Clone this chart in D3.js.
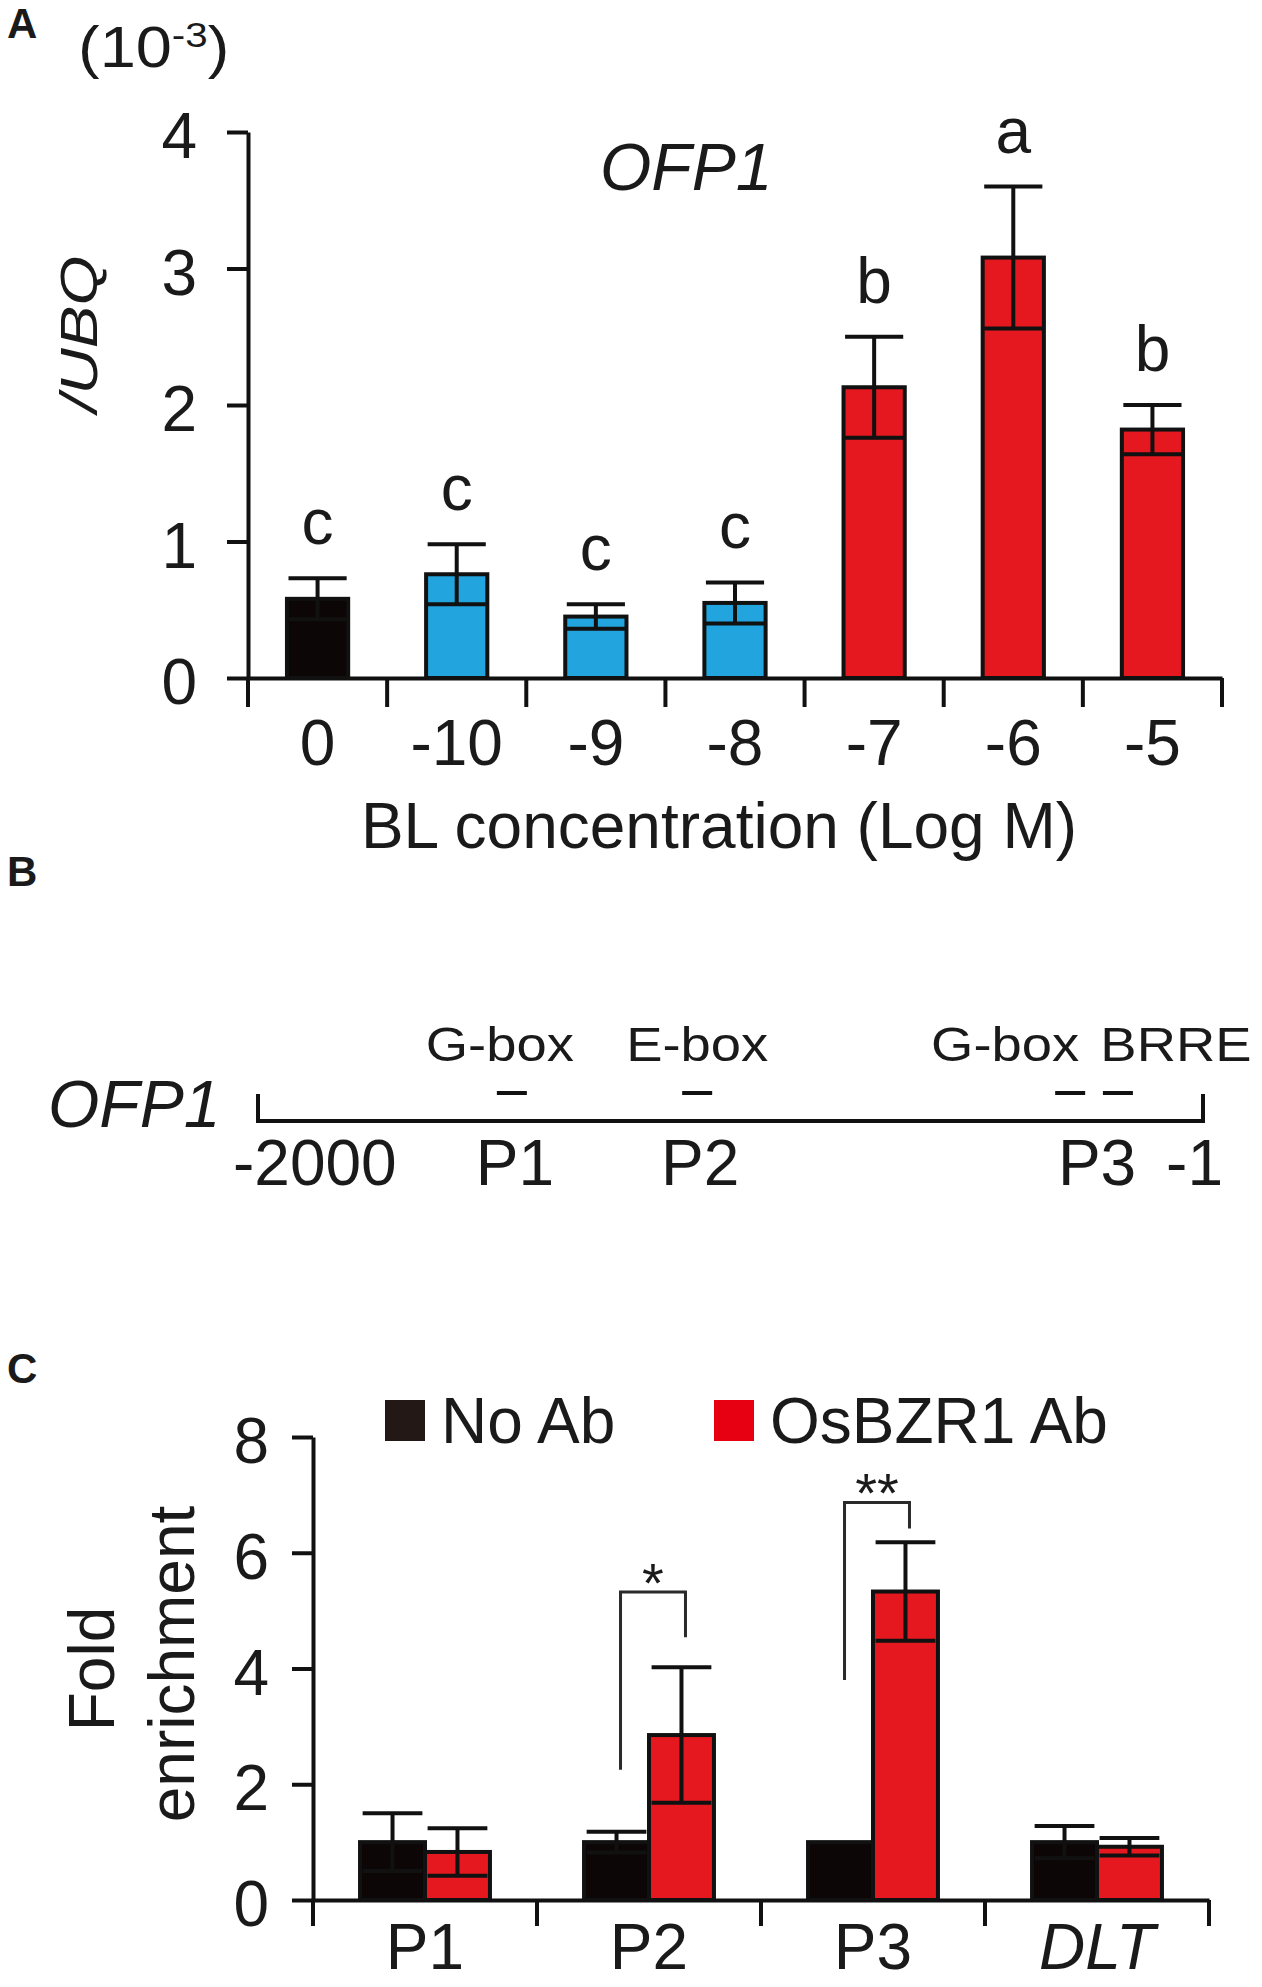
<!DOCTYPE html>
<html>
<head>
<meta charset="utf-8">
<script src="https://cdn.jsdelivr.net/npm/d3@7"></script>
<style>
  body { margin: 0; background: #fff; }
  text { font-family: Arial, "Liberation Sans", sans-serif; fill: #1a1a1a; }
</style>
</head>
<body>
<div id="fig"></div>
<script>
// ---- data: panel A (OFP1 expression vs BL) ----
const blConc = ["0", "-10", "-9", "-8", "-7", "-6", "-5"];
const ofpMean = [0.58, 0.76, 0.45, 0.55, 2.13, 3.08, 1.82];
const ofpSE = [0.15, 0.22, 0.09, 0.15, 0.37, 0.52, 0.18];
const ofpLetters = ["c", "c", "c", "c", "b", "a", "b"];
const ofpGroup = ["control", "low", "low", "low", "high", "high", "high"];
const yTicksA = [0, 1, 2, 3, 4];

// ---- data: panel B (promoter map) ----
const promoterEnds = [-2000, -1];
const motifNames = ["G-box", "E-box", "G-box", "BRRE"];
const motifPos = [-1463, -1071, -282, -181];
const motifRegion = ["P1", "P2", "P3", "P3"];

// ---- data: panel C (ChIP fold enrichment) ----
const chipRegions = ["P1", "P2", "P3", "DLT"];
const noAbMean = [1, 1, 1, 1];
const noAbSE = [0.5, 0.18, 0, 0.28];
const bzrMean = [0.83, 2.85, 5.33, 0.92];
const bzrSE = [0.41, 1.17, 0.85, 0.15];
const sigMarks = ["", "*", "**", ""];
const bracketLeft = [null, 2.25, 3.8, null];
const bracketTop = [null, 5.32, 6.87, null];
const bracketRight = [null, 4.54, 6.42, null];
const yTicksC = [0, 2, 4, 6, 8];
const legendLabels = ["No Ab", "OsBZR1 Ab"];

// colours
const groupColor = { control: "#0d0606", low: "#22a4de", high: "#e4181e" };
const black = "#0d0606", red = "#e4181e";

const svg = d3.select("#fig").append("svg")
  .attr("width", 1262).attr("height", 1987);

// panel letters
[["A", 38], ["B", 886], ["C", 1383]].forEach(([t, y]) => {
  svg.append("text").text(t).attr("x", 7).attr("y", y)
     .style("font-size", "42px").style("font-weight", "bold");
});

function styleAxis(g) {
  g.select(".domain").attr("stroke", "#111").attr("stroke-width", 4);
  g.selectAll(".tick line").attr("stroke", "#111").attr("stroke-width", 4);
  g.selectAll(".tick text").style("font-size", "64px").attr("fill", "#1a1a1a")
   .style("font-family", "Arial, 'Liberation Sans', sans-serif");
}

// ================= Panel A =================
const xA = d3.scaleBand().domain(blConc).range([248, 1222]);
const yA = d3.scaleLinear().domain([0, 4]).range([678, 132]);
const barWA = xA.bandwidth() * 0.44;

const yAxisA = svg.append("g").attr("transform", "translate(248,0)")
  .call(d3.axisLeft(yA).tickValues(yTicksA).tickFormat(d3.format("d"))
        .tickSize(21).tickSizeOuter(0).tickPadding(30));
styleAxis(yAxisA);
yAxisA.selectAll(".tick text").attr("dy", "0.4em");

const xAxisA = svg.append("g").attr("transform", "translate(0,678)")
  .call(d3.axisBottom(xA).tickSize(0).tickSizeOuter(0).tickPadding(42));
styleAxis(xAxisA);
// boundary ticks between categories
svg.append("g").selectAll("line")
  .data(blConc.map(d => xA(d)).concat([xA.range()[1]]))
  .enter().append("line")
  .attr("x1", d => d).attr("x2", d => d)
  .attr("y1", 678).attr("y2", 707)
  .attr("stroke", "#111").attr("stroke-width", 4);

const barsA = svg.append("g");
barsA.selectAll("rect").data(blConc).enter().append("rect")
  .attr("x", d => xA(d) + (xA.bandwidth() - barWA) / 2)
  .attr("y", (d, i) => yA(ofpMean[i]))
  .attr("width", barWA)
  .attr("height", (d, i) => yA(0) - yA(ofpMean[i]))
  .attr("fill", (d, i) => groupColor[ofpGroup[i]])
  .attr("stroke", "#111").attr("stroke-width", 4);

function errorBar(g, cx, mean, se, y, capW) {
  g.append("line").attr("x1", cx).attr("x2", cx)
    .attr("y1", y(mean - se)).attr("y2", y(mean + se))
    .attr("stroke", "#111").attr("stroke-width", 4);
  [mean - se, mean + se].forEach(v => {
    g.append("line").attr("x1", cx - capW / 2).attr("x2", cx + capW / 2)
      .attr("y1", y(v)).attr("y2", y(v))
      .attr("stroke", "#111").attr("stroke-width", 4);
  });
}

blConc.forEach((d, i) => {
  const cx = xA(d) + xA.bandwidth() / 2;
  errorBar(barsA, cx, ofpMean[i], ofpSE[i], yA, barWA * 0.95);
  barsA.append("text").text(ofpLetters[i])
    .attr("x", cx).attr("y", yA(ofpMean[i] + ofpSE[i]) - 34)
    .attr("text-anchor", "middle").style("font-size", "64px");
});

svg.append("text").text("OFP1").attr("x", 600).attr("y", 190)
  .style("font-size", "66px").style("font-style", "italic");

svg.append("text").text("/UBQ")
  .attr("transform", "translate(97,334) rotate(-90) scale(1,0.8)")
  .attr("text-anchor", "middle")
  .style("font-size", "64px").style("font-style", "italic");

const unitLabel = svg.append("g").attr("transform", "translate(78,67) scale(1.12,1)")
  .append("text").style("font-size", "58px");
unitLabel.append("tspan").text("(10");
unitLabel.append("tspan").text("-3").attr("dy", -20).style("font-size", "36px");
unitLabel.append("tspan").text(")").attr("dy", 20);

svg.append("text").text("BL concentration (Log M)")
  .attr("x", 719).attr("y", 848).attr("text-anchor", "middle")
  .style("font-size", "64px");

// ================= Panel B =================
const xB = d3.scaleLinear().domain(promoterEnds).range([258, 1203]);
const lineY = 1121;
svg.append("line").attr("x1", xB(-2000)).attr("x2", xB(-1))
  .attr("y1", lineY).attr("y2", lineY)
  .attr("stroke", "#111").attr("stroke-width", 4);
promoterEnds.forEach(p => {
  svg.append("line").attr("x1", xB(p)).attr("x2", xB(p))
    .attr("y1", lineY - 27).attr("y2", lineY + 2)
    .attr("stroke", "#111").attr("stroke-width", 4);
});
svg.append("text").text("-2000").attr("x", xB(-2000) - 25).attr("y", 1185)
  .style("font-size", "64px");
svg.append("text").text("-1").attr("x", xB(-1) + 20).attr("y", 1185)
  .attr("text-anchor", "end").style("font-size", "64px");
svg.append("text").text("OFP1").attr("x", 48).attr("y", 1127)
  .style("font-size", "66px").style("font-style", "italic");

const motifShift = [-12, 0, -65, 58];
const motifG = svg.append("g");
motifG.selectAll("line").data(motifPos).enter().append("line")
  .attr("x1", d => xB(d) - 15).attr("x2", d => xB(d) + 15)
  .attr("y1", 1093).attr("y2", 1093)
  .attr("stroke", "#111").attr("stroke-width", 4);
motifPos.forEach((p, i) => {
  motifG.append("g")
    .attr("transform", `translate(${xB(p) + motifShift[i]},1061) scale(1.11,1)`)
    .append("text").text(motifNames[i])
    .attr("text-anchor", "middle").style("font-size", "49px");
});
const regions = d3.groups(motifPos.map((p, i) => ({ p, r: motifRegion[i] })), d => d.r);
regions.forEach(([r, arr]) => {
  svg.append("text").text(r)
    .attr("x", d3.mean(arr, d => xB(d.p)) + 3).attr("y", 1185)
    .attr("text-anchor", "middle").style("font-size", "64px");
});

// ================= Panel C =================
const xC = d3.scaleBand().domain(chipRegions).range([313, 1209]);
const yC = d3.scaleLinear().domain([0, 8]).range([1900, 1437]);
const barWC = xC.bandwidth() * 0.29;

const yAxisC = svg.append("g").attr("transform", "translate(313,0)")
  .call(d3.axisLeft(yC).tickValues(yTicksC).tickFormat(d3.format("d"))
        .tickSize(21).tickSizeOuter(0).tickPadding(23));
styleAxis(yAxisC);
yAxisC.selectAll(".tick text").attr("dy", "0.4em");

const xAxisC = svg.append("g").attr("transform", "translate(0,1900)")
  .call(d3.axisBottom(xC).tickSize(0).tickSizeOuter(0).tickPadding(24));
styleAxis(xAxisC);
xAxisC.selectAll(".tick text").style("font-style", d => d === "DLT" ? "italic" : "normal");
svg.append("g").selectAll("line")
  .data(chipRegions.map(d => xC(d)).concat([xC.range()[1]]))
  .enter().append("line")
  .attr("x1", d => d).attr("x2", d => d)
  .attr("y1", 1900).attr("y2", 1926)
  .attr("stroke", "#111").attr("stroke-width", 4);

const barsC = svg.append("g");
chipRegions.forEach((r, i) => {
  const c = xC(r) + xC.bandwidth() / 2;
  const series = [
    { x: c - barWC, m: noAbMean[i], se: noAbSE[i], col: black },
    { x: c, m: bzrMean[i], se: bzrSE[i], col: red }
  ];
  series.forEach(s => {
    barsC.append("rect").attr("x", s.x).attr("y", yC(s.m))
      .attr("width", barWC).attr("height", yC(0) - yC(s.m))
      .attr("fill", s.col).attr("stroke", "#111").attr("stroke-width", 4);
  });
  series.forEach(s => {
    if (s.se > 0) errorBar(barsC, s.x + barWC / 2, s.m, s.se, yC, barWC * 0.92);
  });
  if (sigMarks[i]) {
    const xl = c - barWC / 2 + 4, xr = c + barWC / 2 + 4;
    barsC.append("path")
      .attr("d", `M${xl},${yC(bracketLeft[i])}V${yC(bracketTop[i])}H${xr}V${yC(bracketRight[i])}`)
      .attr("fill", "none").attr("stroke", "#2a2a2a").attr("stroke-width", 3);
    barsC.append("text").text(sigMarks[i])
      .attr("x", (xl + xr) / 2).attr("y", yC(bracketTop[i]) + 10)
      .attr("text-anchor", "middle").style("font-size", "56px");
  }
});

// legend
const legendX = [385, 714];
const legendCol = ["#231815", "#e60012"];
legendLabels.forEach((l, i) => {
  svg.append("rect").attr("x", legendX[i]).attr("y", 1400)
    .attr("width", 40).attr("height", 41).attr("fill", legendCol[i]);
  svg.append("text").text(l).attr("x", legendX[i] + 56).attr("y", 1443)
    .style("font-size", "64px");
});

svg.append("text").text("Fold")
  .attr("transform", "translate(114,1669) rotate(-90)")
  .attr("text-anchor", "middle").style("font-size", "64px");
svg.append("text").text("enrichment")
  .attr("transform", "translate(194,1664) rotate(-90)")
  .attr("text-anchor", "middle").style("font-size", "64px");
</script>
</body>
</html>
